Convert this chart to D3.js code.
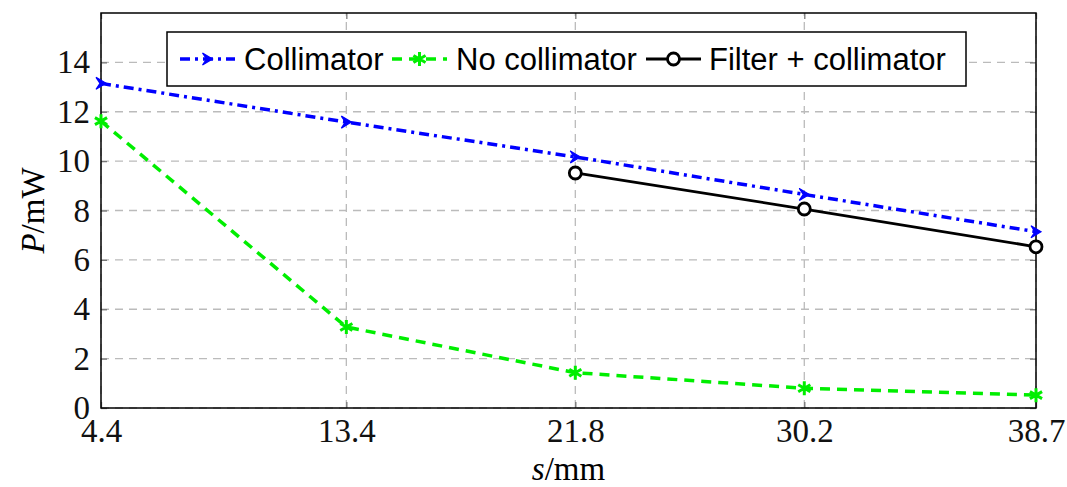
<!DOCTYPE html>
<html>
<head>
<meta charset="utf-8">
<script src="https://cdn.jsdelivr.net/npm/d3@7"></script>
<style>
  body { margin: 0; background: #fff; }
  svg { display: block; }
  .tick text { font-family: "Liberation Serif", "DejaVu Serif", serif; }
</style>
</head>
<body>
<svg width="1067" height="487"></svg>
<script>
// distances s/mm
var distances = [4.4, 13.4, 21.8, 30.2, 38.7];
// power P/mW for each setup
var collimator = [13.15, 11.58, 10.17, 8.65, 7.14];
var noCollimator = [11.62, 3.28, 1.43, 0.8, 0.52];
var filterDistances = [21.8, 30.2, 38.7];
var filterCollimator = [9.52, 8.06, 6.53];
var yTicks = [0, 2, 4, 6, 8, 10, 12, 14];

var svg = d3.select("svg"),
    width = +svg.attr("width"),
    height = +svg.attr("height");

var margin = {left: 101, right: 31, top: 13, bottom: 79};
var x = d3.scaleLinear().domain([4.4, 38.7]).range([margin.left, width - margin.right]);
var y = d3.scaleLinear().domain([0, 16]).range([height - margin.bottom, margin.top]);

// grid
var grid = svg.append("g").attr("stroke", "#bbb").attr("stroke-width", 1.3).attr("stroke-dasharray", "8,6");
grid.selectAll(".gx").data(distances).enter().append("line")
    .attr("x1", function(d){ return x(d); }).attr("x2", function(d){ return x(d); })
    .attr("y1", y(0)).attr("y2", y(16));
grid.selectAll(".gy").data(yTicks).enter().append("line")
    .attr("y1", function(d){ return y(d); }).attr("y2", function(d){ return y(d); })
    .attr("x1", x(4.4)).attr("x2", x(38.7));

// axes
var xAxis = svg.append("g").attr("transform", "translate(0," + y(0) + ")")
    .call(d3.axisBottom(x).tickValues(distances).tickFormat(d3.format(".1f")).tickSizeInner(-6).tickSizeOuter(0).tickPadding(10));
var yAxis = svg.append("g").attr("transform", "translate(" + x(4.4) + ",0)")
    .call(d3.axisLeft(y).tickValues(yTicks).tickSizeInner(-6).tickSizeOuter(0).tickPadding(11));
svg.append("g").attr("transform", "translate(0," + y(16) + ")")
    .call(d3.axisTop(x).tickValues(distances).tickFormat("").tickSizeInner(-6).tickSizeOuter(0));
svg.append("g").attr("transform", "translate(" + x(38.7) + ",0)")
    .call(d3.axisRight(y).tickValues(yTicks).tickFormat("").tickSizeInner(-6).tickSizeOuter(0));
svg.selectAll(".tick line").attr("stroke", "#777").attr("stroke-width", 1.3);
svg.selectAll(".domain").attr("stroke", "none");
svg.selectAll(".tick text").attr("font-size", 33).attr("fill", "#111");
xAxis.selectAll(".tick text").attr("dy", "0.72em");

// frame
svg.append("rect").attr("x", x(4.4)).attr("y", y(16))
    .attr("width", x(38.7) - x(4.4)).attr("height", y(0) - y(16))
    .attr("fill", "none").attr("stroke", "#000").attr("stroke-width", 1.5);

// axis labels
svg.append("text").attr("x", (x(4.4) + x(38.7)) / 2).attr("y", 480)
    .attr("text-anchor", "middle").attr("font-family", "Liberation Serif, serif").attr("font-size", 33)
    .html('<tspan font-style="italic">s</tspan>/mm');
svg.append("text").attr("transform", "translate(44," + (y(0) + y(16)) / 2 + ") rotate(-90)")
    .attr("text-anchor", "middle").attr("font-family", "Liberation Serif, serif").attr("font-size", 33)
    .html('<tspan font-style="italic">P</tspan>/mW');

var line = d3.line().x(function(d){ return x(d[0]); }).y(function(d){ return y(d[1]); });

var series = [
  {name: "Collimator", xs: distances, ys: collimator, color: "#0000ff", dash: "10,5,3,5", width: 3.5, mark: "arrow"},
  {name: "No collimator", xs: distances, ys: noCollimator, color: "#00ee00", dash: "10,7", width: 3.5, mark: "star"},
  {name: "Filter + collimator", xs: filterDistances, ys: filterCollimator, color: "#000", dash: null, width: 2.8, mark: "circle"}
];

function drawMark(g, s, px, py) {
  if (s.mark === "arrow") {
    g.append("path").attr("d", "M-5,-6 L5,0 L-5,6 L-1,0 Z")
      .attr("transform", "translate(" + px + "," + py + ")")
      .attr("fill", s.color).attr("stroke", s.color).attr("stroke-width", 1.2);
  } else if (s.mark === "star") {
    var p = "";
    for (var k = 0; k < 3; k++) {
      var a = Math.PI / 2 + k * Math.PI / 3;
      p += "M" + (7 * Math.cos(a)) + "," + (7 * Math.sin(a)) + "L" + (-7 * Math.cos(a)) + "," + (-7 * Math.sin(a));
    }
    g.append("path").attr("d", p).attr("transform", "translate(" + px + "," + py + ")")
      .attr("stroke", s.color).attr("stroke-width", 3).attr("fill", "none");
  } else {
    g.append("circle").attr("cx", px).attr("cy", py).attr("r", 6)
      .attr("fill", "#fff").attr("stroke", s.color).attr("stroke-width", 2.8);
  }
}

series.forEach(function(s) {
  var pts = s.xs.map(function(v, i){ return [v, s.ys[i]]; });
  var g = svg.append("g");
  g.append("path").datum(pts).attr("d", line)
    .attr("fill", "none").attr("stroke", s.color).attr("stroke-width", s.width)
    .attr("stroke-dasharray", s.dash);
  pts.forEach(function(p){ drawMark(g, s, x(p[0]), y(p[1])); });
});

// legend
var leg = svg.append("g");
leg.append("rect").attr("x", 167).attr("y", 32).attr("width", 799).attr("height", 54)
  .attr("fill", "#fff").attr("stroke", "#000").attr("stroke-width", 1.5);
var entries = [{s: series[0], x0: 180, tx: 244}, {s: series[1], x0: 392, tx: 456}, {s: series[2], x0: 646, tx: 709}];
entries.forEach(function(e) {
  var cy = 59;
  leg.append("line").attr("x1", e.x0).attr("x2", e.x0 + 55).attr("y1", cy).attr("y2", cy)
    .attr("stroke", e.s.color).attr("stroke-width", e.s.width).attr("stroke-dasharray", e.s.dash);
  drawMark(leg, e.s, e.x0 + 27.5, cy);
  leg.append("text").attr("x", e.tx).attr("y", cy + 11)
    .attr("font-family", "Liberation Sans, Arial, sans-serif").attr("font-size", 31)
    .text(e.s.name);
});
</script>
</body>
</html>
